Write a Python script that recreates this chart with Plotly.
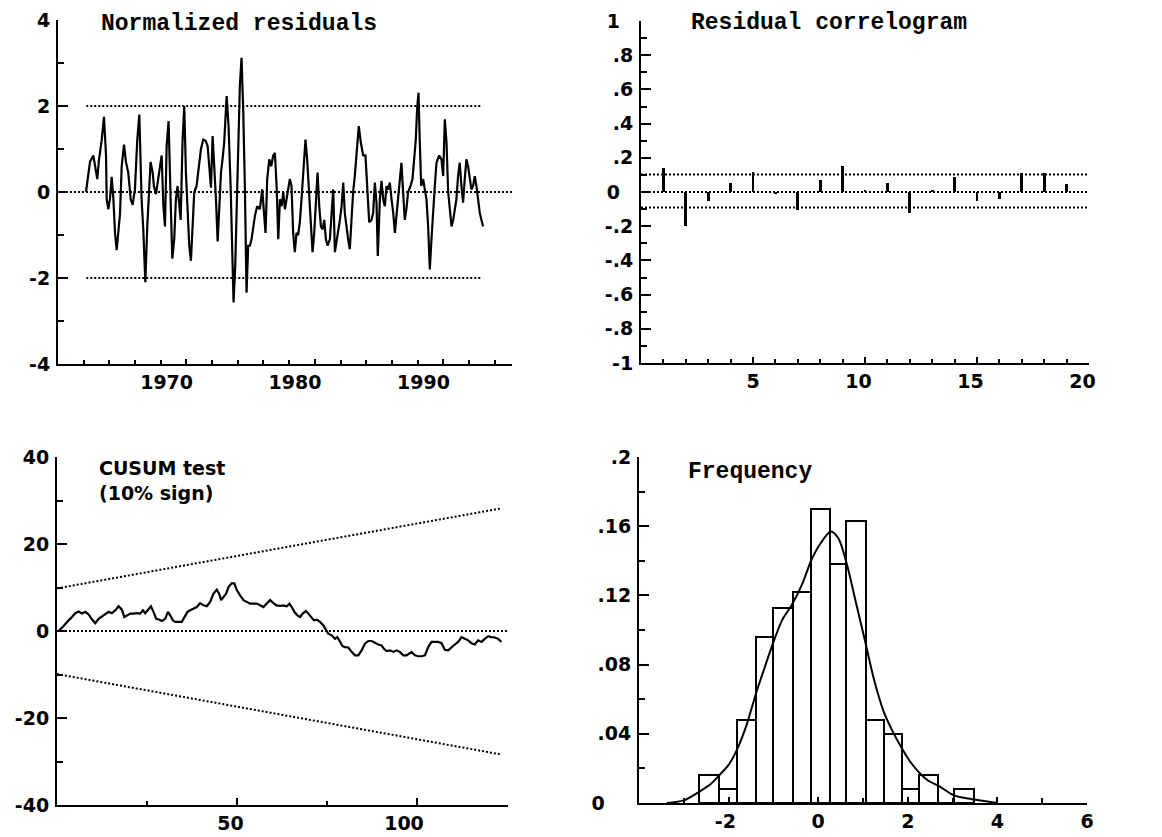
import plotly.graph_objects as go

W, H = 1162, 837

# ---------------- data ----------------
# Normalized residuals (time, value)
res_year = [
    1962.18, 1962.36, 1962.49, 1962.75, 1962.96, 1963.06, 1963.19, 1963.40, 1963.58, 1963.74,
    1963.79, 1963.92, 1964.05, 1964.18, 1964.31, 1964.44, 1964.57, 1964.70, 1964.83, 1964.96,
    1965.14, 1965.29, 1965.47, 1965.66, 1965.81, 1965.99, 1966.17, 1966.33, 1966.51, 1966.64,
    1966.80, 1966.95, 1967.08, 1967.21, 1967.37, 1967.47, 1967.63, 1967.76, 1967.94, 1968.07,
    1968.20, 1968.33, 1968.46, 1968.61, 1968.77, 1968.90, 1969.05, 1969.18, 1969.31, 1969.44,
    1969.55, 1969.70, 1969.83, 1969.96, 1970.09, 1970.22, 1970.35, 1970.48, 1970.61, 1970.79,
    1970.95, 1971.13, 1971.31, 1971.49, 1971.65, 1971.78, 1971.91, 1972.04, 1972.17, 1972.30,
    1972.43, 1972.56, 1972.69, 1972.81, 1972.94, 1973.13, 1973.28, 1973.44, 1973.57, 1973.67,
    1973.80, 1973.93, 1974.06, 1974.16, 1974.29, 1974.42, 1974.55, 1974.68, 1974.81, 1974.94,
    1975.07, 1975.20, 1975.33, 1975.51, 1975.72, 1975.90, 1976.03, 1976.16, 1976.29, 1976.45,
    1976.60, 1976.76, 1976.89, 1977.02, 1977.15, 1977.28, 1977.41, 1977.54, 1977.67, 1977.80,
    1977.93, 1978.05, 1978.18, 1978.31, 1978.44, 1978.57, 1978.70, 1978.83, 1978.96, 1979.14,
    1979.27, 1979.40, 1979.56, 1979.69, 1979.82, 1979.95, 1980.08, 1980.21, 1980.34, 1980.47,
    1980.60, 1980.73, 1980.86, 1980.99, 1981.17, 1981.30, 1981.43, 1981.56, 1981.69, 1981.82,
    1981.95, 1982.08, 1982.21, 1982.33, 1982.46, 1982.59, 1982.72, 1982.85, 1982.98, 1983.11,
    1983.24, 1983.42, 1983.58, 1983.76, 1983.94, 1984.10, 1984.23, 1984.41, 1984.54, 1984.67,
    1984.80, 1984.90, 1985.06, 1985.19, 1985.32, 1985.45, 1985.58, 1985.71, 1985.84, 1985.97,
    1986.10, 1986.23, 1986.36, 1986.49, 1986.61, 1986.74, 1986.87, 1987.00, 1987.13, 1987.26,
    1987.45, 1987.60, 1987.73, 1987.86, 1987.96, 1988.07, 1988.17, 1988.28, 1988.43, 1988.56,
    1988.69, 1988.82, 1988.95, 1989.08, 1989.21, 1989.34, 1989.47, 1989.68, 1989.86, 1989.99,
    1990.12, 1990.25, 1990.38, 1990.51, 1990.64, 1990.77, 1990.90, 1991.02, 1991.15, 1991.28,
    1991.41, 1991.54, 1991.67, 1991.80, 1991.93, 1992.06, 1992.19, 1992.32, 1992.45, 1992.58,
    1992.71, 1992.84, 1992.97, 1993.10,
]
res_value = [
    0.00, 0.45, 0.70, 0.85, 0.50, 0.30, 0.75, 1.20, 1.75, 0.85,
    -0.17, -0.40, -0.15, 0.35, -0.15, -0.95, -1.35, -1.00, -0.50, 0.60,
    1.10, 0.70, 0.45, -0.17, -0.30, 0.06, 1.20, 1.80, -0.17, -0.87,
    -2.10, -0.80, 0.14, 0.70, 0.45, 0.14, -0.05, 0.20, 0.60, 0.85,
    -0.30, -0.80, 1.07, 1.65, -0.17, -1.55, -1.10, -0.17, 0.14, -0.30,
    -0.65, 1.20, 2.00, 0.45, -0.30, -1.25, -1.60, -0.65, 0.00, 0.14,
    0.60, 1.00, 1.22, 1.19, 1.07, 0.60, 0.10, 1.30, 0.70, -0.17,
    -1.15, -0.48, 0.45, 0.76, 1.15, 2.23, 1.53, 0.14, -1.72, -2.57,
    -1.72, 0.00, 1.15, 2.47, 3.12, 1.92, 0.14, -2.34, -1.25, -1.25,
    -1.10, -0.80, -0.56, -0.33, -0.40, 0.06, -0.48, -0.95, 0.30, 0.76,
    0.60, 0.85, 0.91, 0.14, -1.10, -0.17, -0.33, 0.00, -0.40, -0.17,
    0.14, 0.30, 0.14, -0.95, -1.40, -0.95, -1.00, -0.70, -0.17, 0.68,
    1.22, 0.76, -0.17, -0.95, -1.40, -0.95, -0.17, 0.45, -0.33, -0.80,
    -0.87, -0.65, -1.10, -1.25, -1.10, -0.56, 0.06, -1.40, -1.18, -0.87,
    -0.65, -0.33, 0.22, -0.48, -0.87, -1.10, -1.33, -0.48, 0.00, 0.37,
    0.91, 1.53, 1.15, 0.85, 0.85, -0.17, -0.70, -0.65, -0.48, 0.22,
    -0.25, -1.49, -0.17, 0.26, -0.17, -0.33, 0.14, 0.06, 0.22, -0.17,
    -0.48, -0.95, -0.56, -0.17, 0.14, 0.68, 0.00, -0.65, -0.40, 0.00,
    0.14, 0.30, 0.76, 1.22, 1.92, 2.31, 1.15, 0.14, 0.30, 0.00,
    -0.17, -0.80, -1.80, -1.10, -0.33, 0.14, 0.68, 0.85, 0.76, 0.37,
    1.69, 1.15, 0.00, -0.48, -0.80, -0.65, -0.33, -0.17, 0.37, 0.68,
    0.14, -0.25, 0.30, 0.76, 0.60, 0.30, 0.06, 0.14, 0.37, 0.14,
    -0.25, -0.48, -0.65, -0.80,
]
res_bands = [2.0, -2.0]
res_band_years = [1962.2, 1993.0]
res_year_range = [1960, 1995.35]

# Residual correlogram
acf_lag = list(range(1, 20))
acf_value = [0.14, -0.20, -0.05, 0.05, 0.115, -0.01, -0.105, 0.07, 0.15, 0.01,
             0.05, -0.12, 0.01, 0.09, -0.05, -0.04, 0.11, 0.11, 0.045]
acf_bands = [0.103, -0.09]

# CUSUM test
cusum_t = [
    0.46, 1.39, 2.31, 3.23, 4.16, 5.08, 6.01, 6.93, 7.86, 8.78,
    9.70, 10.63, 11.55, 12.48, 13.40, 14.33, 15.25, 16.17, 17.10, 18.02,
    18.67, 19.41, 20.33, 21.26, 22.18, 23.11, 23.84, 24.49, 25.42, 26.06,
    26.80, 27.54, 28.47, 29.11, 30.04, 30.78, 31.42, 32.16, 32.81, 33.73,
    34.66, 35.40, 36.23, 36.97, 37.89, 38.82, 39.74, 40.67, 41.59, 42.51,
    43.44, 44.36, 45.01, 45.56, 46.21, 46.95, 47.60, 48.52, 49.26, 49.91,
    50.83, 51.76, 52.68, 53.60, 54.53, 55.45, 56.38, 57.30, 58.23, 59.15,
    60.07, 61.00, 61.92, 62.85, 63.77, 64.51, 65.16, 65.90, 66.73, 67.47,
    68.21, 69.13, 69.78, 70.70, 71.35, 72.09, 73.01, 73.94, 74.68, 75.32,
    76.25, 77.17, 77.82, 78.56, 79.30, 79.94, 80.87, 81.79, 82.72, 83.64,
    84.57, 85.49, 86.41, 87.34, 88.26, 89.19, 90.11, 90.76, 91.50, 92.42,
    93.35, 94.27, 95.19, 96.12, 97.04, 97.78, 98.43, 99.35, 100.28, 101.20,
    102.13, 103.05, 103.97, 104.90, 105.82, 106.75, 107.67, 108.60, 109.52, 110.44,
    111.37, 112.29, 113.22, 114.14, 115.06, 115.99, 116.91, 117.84, 118.76, 119.69,
    120.61, 121.53, 122.46, 123.38,
]
cusum_value = [
    0.0, 0.77, 1.7, 2.45, 3.2, 4.1, 4.5, 4.0, 4.4, 3.8,
    2.7, 1.8, 2.8, 3.4, 3.8, 4.4, 4.1, 4.75, 5.7, 4.9,
    3.2, 3.6, 4.0, 4.0, 4.1, 4.0, 4.75, 4.1, 5.1, 5.7,
    4.4, 2.8, 2.6, 2.3, 2.8, 4.4, 3.6, 2.45, 2.1, 2.1,
    2.1, 3.2, 4.4, 4.75, 5.1, 5.5, 6.4, 5.9, 5.7, 6.7,
    8.6, 9.5, 8.6, 7.1, 7.8, 8.6, 10.1, 11.0, 10.9, 9.4,
    8.2, 7.1, 6.7, 6.3, 6.3, 6.3, 5.9, 5.5, 6.3, 7.1,
    6.4, 5.9, 5.75, 5.9, 5.7, 6.3, 5.5, 4.4, 3.6, 3.2,
    4.0, 4.6, 4.0, 3.2, 2.45, 2.6, 2.1, 1.3, 0.15, -0.6,
    -1.0, -1.8, -1.4, -2.5, -3.5, -3.7, -3.8, -4.8, -5.6, -5.6,
    -4.45, -2.9, -2.3, -2.3, -2.8, -3.1, -3.3, -4.1, -4.6, -4.45,
    -4.8, -4.45, -4.8, -5.6, -5.6, -5.2, -4.8, -5.6, -5.8, -5.8,
    -5.6, -3.7, -2.5, -2.5, -2.5, -2.8, -4.3, -4.45, -3.7, -3.1,
    -2.5, -1.4, -1.8, -2.15, -2.8, -3.1, -2.15, -2.5, -1.8, -1.2,
    -1.4, -1.5, -1.8, -2.5,
]
cusum_band_t = [0.0, 123.4]
cusum_upper = [9.8, 28.2]
cusum_lower = [-9.9, -28.4]
cusum_t_range = [0, 125.2]

# Histogram of residuals with density estimate
hist_edges = [-2.65, -2.21, -1.81, -1.38, -1.00, -0.56, -0.16, 0.27,
              0.63, 1.06, 1.46, 1.88, 2.24, 2.68, 3.03, 3.48]
hist_freq = [0.016, 0.008, 0.048, 0.096, 0.113, 0.122, 0.170, 0.138,
             0.163, 0.048, 0.040, 0.008, 0.016, 0.0, 0.008]
dens_x = [-3.38, -3.0, -2.65, -2.4, -2.21, -2.0, -1.81, -1.6, -1.38, -1.2, -1.0,
          -0.8, -0.6, -0.35, -0.16, 0.05, 0.28, 0.45, 0.63, 0.85, 1.06, 1.25,
          1.46, 1.65, 1.88, 2.05, 2.24, 2.45, 2.68, 3.03, 3.25, 3.48, 3.85, 4.0]
dens_y = [0.0, 0.0015, 0.0066, 0.011, 0.016, 0.022, 0.031, 0.045, 0.064, 0.078, 0.093,
          0.106, 0.114, 0.127, 0.140, 0.150, 0.157, 0.153, 0.139, 0.115, 0.092, 0.071,
          0.053, 0.042, 0.031, 0.024, 0.018, 0.013, 0.010, 0.0044, 0.003, 0.002, 0.0006, 0.0]

# ---------------- styling helpers ----------------
BLACK = "black"
TICK_FONT = dict(family="DejaVu Sans", size=19, color=BLACK, weight="bold")
SERIF_TITLE = dict(family="Liberation Mono", size=23, color=BLACK, weight="bold")
SANS_TITLE = dict(family="DejaVu Sans", size=19, color=BLACK, weight="bold")
DOT = "2px,2px"
NBSP = "\u00a0"
FIGSP = "\u2007"


def dom_x(left, right):
    return [left / W, right / W]


def dom_y(top, bottom):
    return [1 - bottom / H, 1 - top / H]


def fmt(v, lead_zero=True):
    s = f"{v:g}"
    if not lead_zero:
        s = s.replace("0.", ".")
    return s


def xlabel(v):
    # the last digit of each label sits over its tick
    s = fmt(v)
    pad = NBSP if s.startswith("-") else ""
    return s + pad + FIGSP * (len(s.lstrip("-")) - 1)


def axis(domain, rng, anchor, tickvals, ticktext, ticklen, minor_tick0, minor_dtick,
         minor_len, standoff):
    return dict(
        domain=domain, range=rng, anchor=anchor, automargin=False,
        showline=True, linecolor=BLACK, linewidth=2, mirror=False,
        showgrid=False, zeroline=False,
        ticks="inside", ticklen=ticklen, tickwidth=2, tickcolor=BLACK,
        tickmode="array", tickvals=tickvals, ticktext=ticktext,
        tickfont=TICK_FONT, ticklabelstandoff=standoff,
        minor=dict(tickmode="linear", tick0=minor_tick0, dtick=minor_dtick,
                   ticks="inside", ticklen=minor_len, tickwidth=2, tickcolor=BLACK,
                   showgrid=False),
        fixedrange=True,
    )


fig = go.Figure()

# ---- panel 1: normalized residuals ----
fig.add_trace(go.Scatter(x=res_year_range, y=[0, 0], mode="lines",
                         line=dict(color=BLACK, width=2, dash=DOT), xaxis="x", yaxis="y"))
for b in res_bands:
    fig.add_trace(go.Scatter(x=res_band_years, y=[b, b], mode="lines",
                             line=dict(color=BLACK, width=2, dash=DOT), xaxis="x", yaxis="y"))
fig.add_trace(go.Scatter(x=res_year, y=res_value, mode="lines",
                         line=dict(color=BLACK, width=2.2), xaxis="x", yaxis="y"))

# ---- panel 2: residual correlogram ----
for b in [0.0] + acf_bands:
    fig.add_trace(go.Scatter(x=[0, 20], y=[b, b], mode="lines",
                             line=dict(color=BLACK, width=2, dash=DOT), xaxis="x2", yaxis="y2"))
fig.add_trace(go.Bar(x=acf_lag, y=acf_value, width=0.13, marker=dict(color=BLACK, line_width=0),
                     xaxis="x2", yaxis="y2"))

# ---- panel 3: CUSUM ----
fig.add_trace(go.Scatter(x=cusum_t_range, y=[0, 0], mode="lines",
                         line=dict(color=BLACK, width=2, dash=DOT), xaxis="x3", yaxis="y3"))
for band in (cusum_upper, cusum_lower):
    fig.add_trace(go.Scatter(x=cusum_band_t, y=band, mode="lines",
                             line=dict(color=BLACK, width=2, dash=DOT), xaxis="x3", yaxis="y3"))
fig.add_trace(go.Scatter(x=[0.0] + cusum_t, y=[0.0] + cusum_value, mode="lines",
                         line=dict(color=BLACK, width=2.2), xaxis="x3", yaxis="y3"))

# ---- panel 4: frequency histogram ----
centers = [(a + b) / 2 for a, b in zip(hist_edges[:-1], hist_edges[1:])]
widths = [b - a for a, b in zip(hist_edges[:-1], hist_edges[1:])]
fig.add_trace(go.Bar(x=centers, y=hist_freq, width=widths,
                     marker=dict(color="white", line=dict(color=BLACK, width=2)),
                     xaxis="x4", yaxis="y4"))
fig.add_trace(go.Scatter(x=dens_x, y=dens_y, mode="lines",
                         line=dict(color=BLACK, width=2, shape="spline", smoothing=0.8),
                         xaxis="x4", yaxis="y4"))

# ---- axes ----
p1x, p1y = dom_x(58, 512), dom_y(20, 364)
p2x, p2y = dom_x(641, 1089), dom_y(21, 363)
p3x, p3y = dom_x(57, 508), dom_y(457, 805)
p4x, p4y = dom_x(639, 1087), dom_y(457, 803)

y1_vals = [-4, -2, 0, 2, 4]
y2_vals = [-1, -0.8, -0.6, -0.4, -0.2, 0, 0.2, 0.4, 0.6, 0.8, 1]
y3_vals = [-40, -20, 0, 20, 40]
y4_vals = [0, 0.04, 0.08, 0.12, 0.16, 0.2]
x1_vals = [1970, 1980, 1990]
x2_vals = [5, 10, 15, 20]
x3_vals = [50, 100]
x4_vals = [-2, 0, 2, 4, 6]

y2_text = [fmt(v, False) for v in y2_vals]
y2_text = [t + NBSP * 2 if t in ("0", "1") else t for t in y2_text]
y4_text = [fmt(v, False) for v in y4_vals]
y4_text = [t + NBSP * 4 if t == "0" else t for t in y4_text]

XS, YS = 0, 2  # tick label standoff for x and y axes

fig.update_layout(
    width=W, height=H, margin=dict(l=0, r=0, t=0, b=0, autoexpand=False),
    paper_bgcolor="white", plot_bgcolor="white", showlegend=False, bargap=0,
    xaxis=axis(p1x, res_year_range, "y", x1_vals, [xlabel(v) for v in x1_vals], 5, 1960, 2, 4, XS),
    yaxis=axis(p1y, [-4, 4], "x", y1_vals, [fmt(v) for v in y1_vals], 10, -4, 1, 6, YS),
    xaxis2=axis(p2x, [0, 20], "y2", x2_vals, [xlabel(v) for v in x2_vals], 6, 0, 1, 4, XS),
    yaxis2=axis(p2y, [-1, 1], "x2", y2_vals, y2_text, 10, -1, 0.1, 6, YS),
    xaxis3=axis(p3x, cusum_t_range, "y3", x3_vals, [xlabel(v) for v in x3_vals], 7, 0, 25, 4, XS),
    yaxis3=axis(p3y, [-40, 40], "x3", y3_vals, [fmt(v) for v in y3_vals], 10, -40, 10, 6, YS),
    xaxis4=axis(p4x, [-4, 6], "y4", x4_vals, [xlabel(v) for v in x4_vals], 6, -4, 1, 5, XS),
    yaxis4=axis(p4y, [0, 0.2], "x4", y4_vals, y4_text, 10, 0, 0.02, 6, YS),
)

titles = [
    ("Normalized residuals", 100, 24, SERIF_TITLE),
    ("Residual correlogram", 690, 23, SERIF_TITLE),
    ("CUSUM test<br>(10% sign)", 98, 480, SANS_TITLE),
    ("Frequency", 687, 472, SERIF_TITLE),
]
for text, xpx, ypx, font in titles:
    fig.add_annotation(text=text, x=xpx / W, y=1 - ypx / H, xref="paper", yref="paper",
                       xanchor="left", yanchor="middle", align="left", showarrow=False,
                       font=font, borderpad=0)

fig.write_html("out.html", config={"displayModeBar": False})
